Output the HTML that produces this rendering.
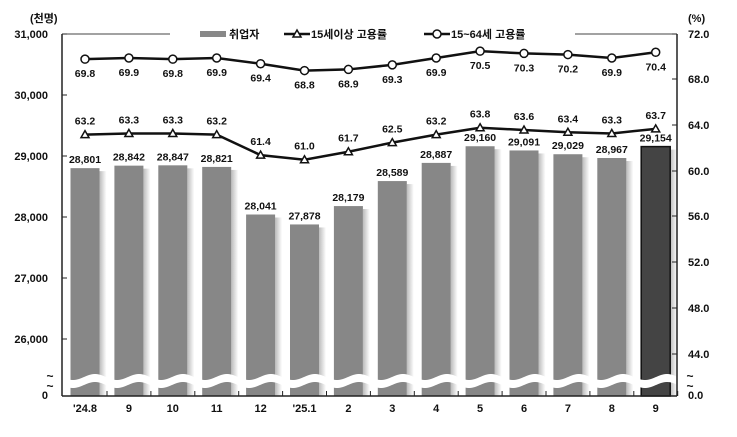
<!DOCTYPE html>
<html><head><meta charset="utf-8"><style>
body{margin:0;background:#fff}
svg text{font-family:"Liberation Sans","Noto Sans CJK KR",sans-serif;font-weight:bold;fill:#111}
</style></head><body>
<svg width="737" height="432" viewBox="0 0 737 432" xmlns="http://www.w3.org/2000/svg">
<defs>
<linearGradient id="sh" x1="0" x2="1"><stop offset="0" stop-color="#bbb"/><stop offset="1" stop-color="#fff"/></linearGradient>
</defs>
<g id="bars"></g>
<g id="band"></g>
<line x1="62" y1="34" x2="62" y2="396" stroke="#222" stroke-width="1.5"/>
<line x1="677" y1="34" x2="677" y2="396" stroke="#222" stroke-width="1.5"/>
<line x1="62" y1="396" x2="677" y2="396" stroke="#222" stroke-width="1.5"/>
<line x1="62" y1="34" x2="170" y2="34" stroke="#444"/>
<line x1="575" y1="34" x2="677" y2="34" stroke="#444"/>
<g id="ticks" stroke="#222"></g>
<g font-size="11" text-anchor="end">
<text x="48" y="38">31,000</text><text x="48" y="99">30,000</text><text x="48" y="160">29,000</text>
<text x="48" y="221">28,000</text><text x="48" y="282">27,000</text><text x="48" y="343">26,000</text><text x="48" y="399">0</text>
<text x="30" y="22" text-anchor="start" font-size="11">(천명)</text>
</g>
<g font-size="11" text-anchor="start">
<text x="688" y="38">72.0</text><text x="688" y="83">68.0</text><text x="688" y="129">64.0</text>
<text x="688" y="175">60.0</text><text x="688" y="220">56.0</text><text x="688" y="266">52.0</text>
<text x="688" y="312">48.0</text><text x="688" y="358">44.0</text><text x="688" y="399">0.0</text>
<text x="688" y="22">(%)</text>
</g>
<rect x="200" y="31" width="26" height="6" fill="#888"/>
<text x="229" y="38" font-size="11">취업자</text>
<line x1="284" y1="34" x2="310" y2="34" stroke="#111" stroke-width="2.5"/>
<polygon points="297,30 301,37 293,37" fill="#fff" stroke="#111" stroke-width="1.5"/>
<text x="311" y="38" font-size="11">15세이상 고용률</text>
<line x1="424" y1="34" x2="450" y2="34" stroke="#111" stroke-width="2.5"/>
<circle cx="437" cy="34" r="4" fill="#fff" stroke="#111" stroke-width="1.5"/>
<text x="451" y="38" font-size="11">15~64세 고용률</text>
<g id="lines"></g>
<g id="labels" font-size="10.5" text-anchor="middle"></g>
</svg>
<script>
(function(){
const E=[28801,28842,28847,28821,28041,27878,28179,28589,28887,29160,29091,29029,28967,29154];
const A=[63.2,63.3,63.3,63.2,61.4,61.0,61.7,62.5,63.2,63.8,63.6,63.4,63.3,63.7];
const B=[69.8,69.9,69.8,69.9,69.4,68.8,68.9,69.3,69.9,70.5,70.3,70.2,69.9,70.4];
const X=["'24.8","9","10","11","12","'25.1","2","3","4","5","6","7","8","9"];
const ns="http://www.w3.org/2000/svg";
function el(p,t,a,txt){const e=document.createElementNS(ns,t);for(const k in a)e.setAttribute(k,a[k]);if(txt!=null)e.textContent=txt;document.getElementById(p).appendChild(e);return e;}
const cx=i=>85+i*43.9, yl=v=>156-(v-29000)*0.061, yr=v=>34+(72-v)*11.43;
const f=n=>n.toLocaleString('en-US');
for(let i=0;i<14;i++){const x=cx(i),t=yl(E[i]);
 el('bars','rect',{x:x+14.5,y:t+3,width:7,height:396-t-3,fill:'url(#sh)'});
 el('bars','rect',{x:x-14.5,y:t,width:29,height:396-t,fill:i==13?'#444':'#878787',stroke:i==13?'#111':'none','stroke-width':1.5});
 el('labels','text',{x:x,y:t-5},f(E[i]));
 el('labels','text',{x:x,y:412,'font-size':11},X[i]);
 el('ticks','line',{x1:x+22,y1:396,x2:x+22,y2:391});
}
for(const y of [34,95,156,217,278,339])el('ticks','line',{x1:62,y1:y,x2:67,y2:y});
for(const y of [34,79,125,171,216,262,308,354])el('ticks','line',{x1:672,y1:y,x2:677,y2:y});
let waveTop=[],waveBot=[];
for(let x=62;x<=677;x+=1){const s=Math.sin((x-62)/44*2*Math.PI)*3;waveTop.push(x+','+(377+s));waveBot.push(x+','+(385+s));}
el('band','polygon',{points:waveTop.concat(waveBot.reverse()).join(' '),fill:'#fff'});
el('band','text',{x:50,y:380,'font-size':12,'text-anchor':'middle'},'~');
el('band','text',{x:50,y:390,'font-size':12,'text-anchor':'middle'},'~');
el('band','text',{x:690,y:380,'font-size':12,'text-anchor':'middle'},'~');
el('band','text',{x:690,y:390,'font-size':12,'text-anchor':'middle'},'~');
let pa=A.map((v,i)=>(i?'L':'M')+cx(i)+' '+yr(v)).join(' ');
let pb=B.map((v,i)=>(i?'L':'M')+cx(i)+' '+yr(v)).join(' ');
el('lines','path',{d:pa,stroke:'#111','stroke-width':2.5,fill:'none'});
el('lines','path',{d:pb,stroke:'#111','stroke-width':2.5,fill:'none'});
for(let i=0;i<14;i++){const x=cx(i),ya=yr(A[i]),yb=yr(B[i]);
 el('lines','polygon',{points:`${x},${ya-4} ${x+4},${ya+3} ${x-4},${ya+3}`,fill:'#fff',stroke:'#111','stroke-width':1.5});
 el('lines','circle',{cx:x,cy:yb,r:4,fill:'#fff',stroke:'#111','stroke-width':1.5});
 el('labels','text',{x:x,y:ya-10},A[i].toFixed(1));
 el('labels','text',{x:x,y:yb+18},B[i].toFixed(1));
}
})();
</script>
</body></html>
